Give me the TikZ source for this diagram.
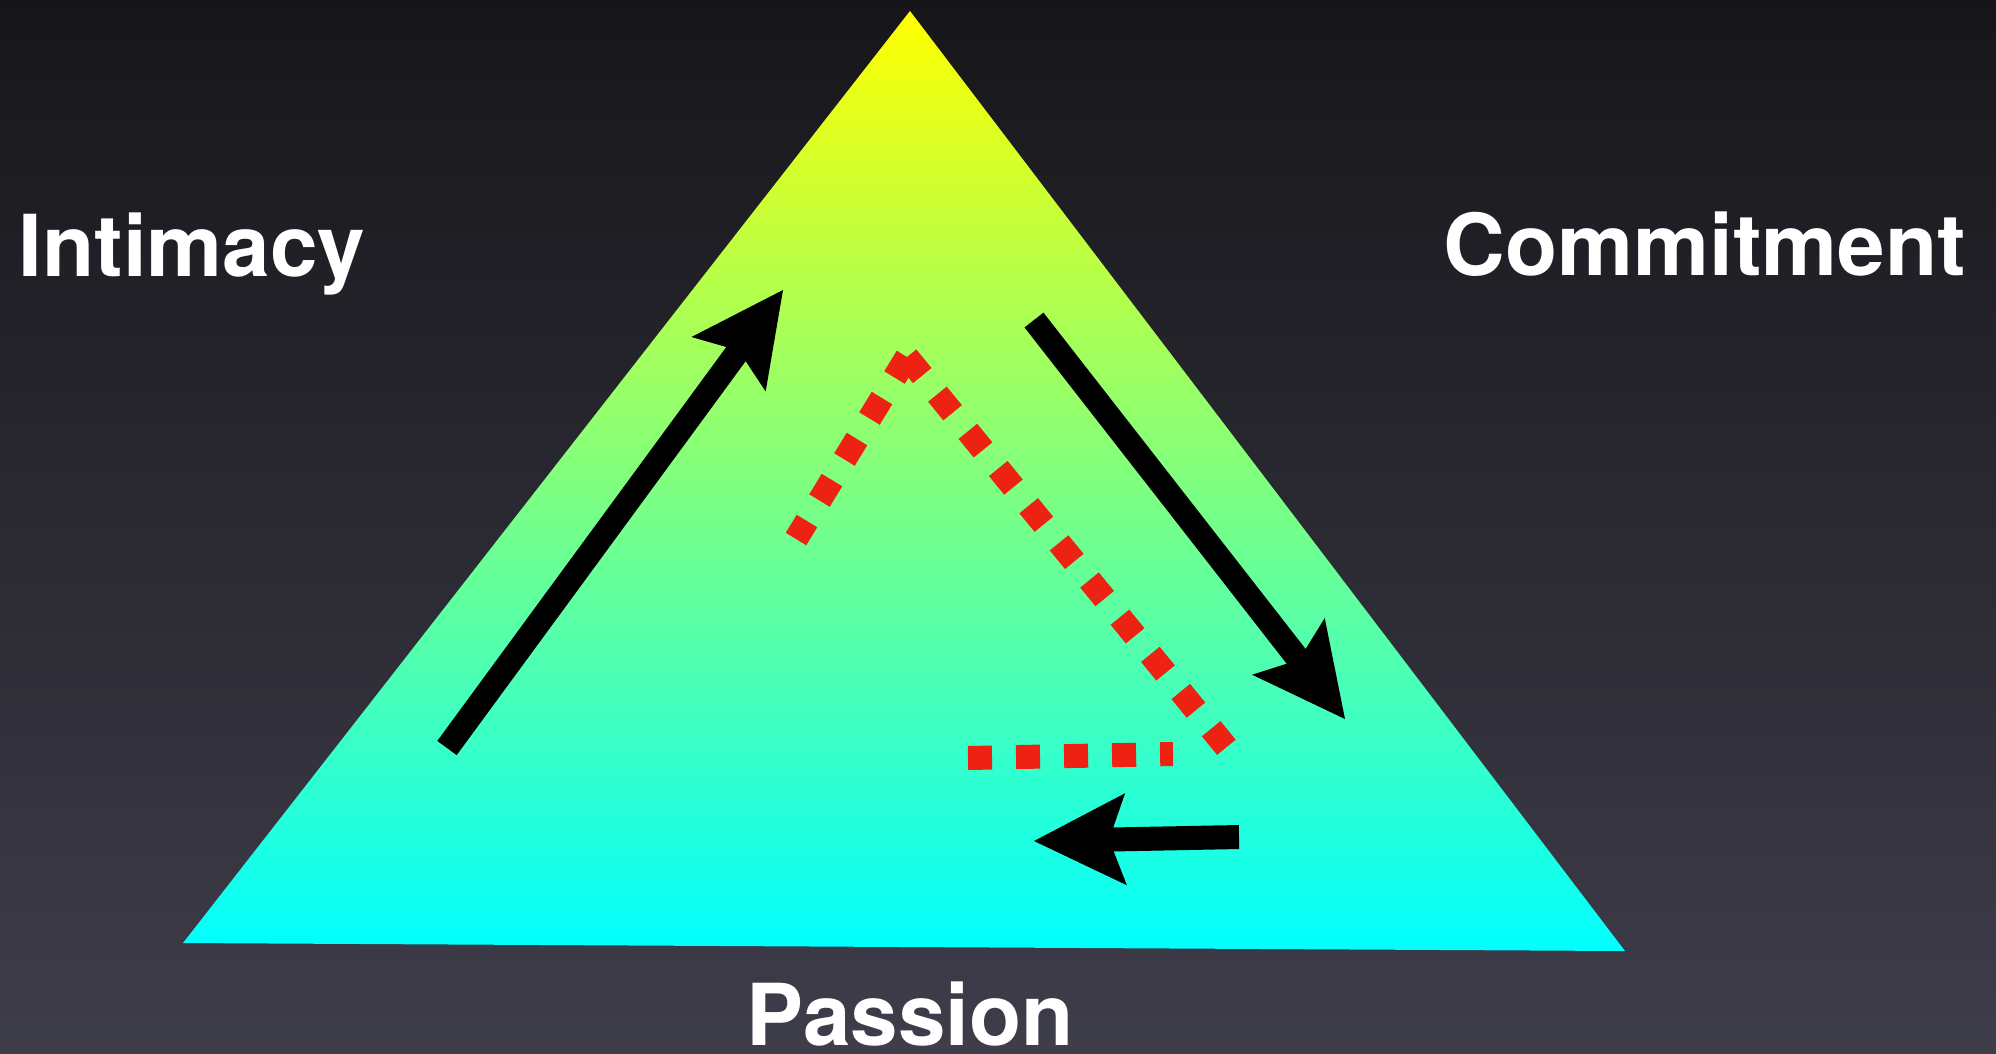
\documentclass[tikz,border=0pt]{standalone}
\usepackage{fontspec}
\setmainfont{TeX Gyre Heros}
\usetikzlibrary{arrows.meta}
\definecolor{bgtop}{RGB}{22,22,26}
\definecolor{bgbot}{RGB}{62,61,74}
\definecolor{trailred}{RGB}{238,34,18}

\begin{document}
\begin{tikzpicture}[x=0.01cm,y=-0.01cm,>={Stealth[length=9.2mm,width=9.2mm,inset=1.7mm,line width=0pt]}]
\tikzset{lbl/.style={text=white,font=\fontsize{24.3}{29}\selectfont\bfseries,inner sep=0pt,anchor=base},
  flow/.style={line width=2.4mm,->},
  trail/.style={draw=trailred,line width=2.4mm,dash pattern=on 2.4mm off 2.4mm}}
% ================= background =================
\useasboundingbox (0,0) rectangle (1996,1053);
\shade[top color=bgtop,bottom color=bgbot] (0,0) rectangle (1996,1053);
% ================= triangle =================
\coordinate (vtop) at (910,11);
\coordinate (vleft) at (183,943);
\coordinate (vright) at (1625,951);
\shade[top color=yellow,bottom color=cyan] (vtop) -- (vleft) -- (vright) -- cycle;
% corner labels
\node[lbl] (intimacy) at (192,276) {Intimacy};
\node[lbl] (commitment) at (1705,275) {Commitment};
\node[lbl] (passion) at (910,1045) {Passion};
% ================= black arrows =================
\coordinate (upS) at (447,748);
\coordinate (upE) at (783,290);
\draw[flow] (upS) -- (upE);
\coordinate (dnS) at (1034,320);
\coordinate (dnE) at (1345,719);
\draw[flow] (dnS) -- (dnE);
\coordinate (bkS) at (1239,837);
\coordinate (bkE) at (1034,841);
\draw[flow] (bkS) -- (bkE);
% ================= red dotted trail =================
\coordinate (tr0) at (907,357);
\coordinate (tr1) at (796,539);
\coordinate (tr2) at (1227,748);
\coordinate (tr3) at (968,758);
\coordinate (tr4) at (1173,754);
\draw[trail] (tr0) -- (tr1);
\draw[trail] (tr0) -- (tr2);
\draw[trail] (tr3) -- (tr4);
\end{tikzpicture}
\end{document}
